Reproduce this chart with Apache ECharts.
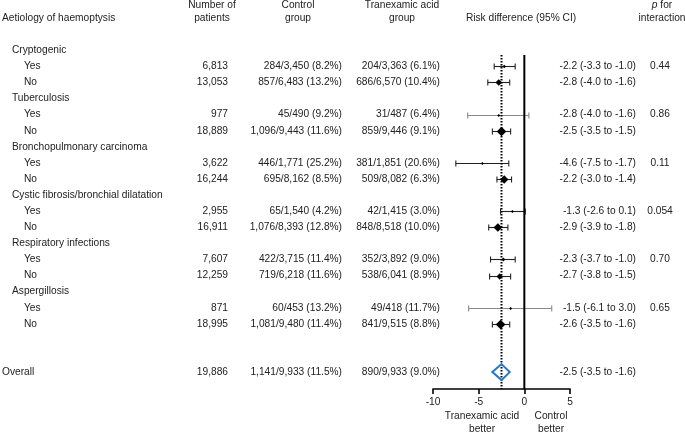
<!DOCTYPE html>
<html><head><meta charset="utf-8">
<script src="https://cdn.jsdelivr.net/npm/echarts@6/dist/echarts.min.js"></script>
<style>html,body{margin:0;padding:0;background:#fff}#c{width:685px;height:432px}</style>
</head><body><div id="c"></div>
<script>
// ---------- data ----------
const groups = ['Cryptogenic','Tuberculosis','Bronchopulmonary carcinoma','Cystic fibrosis/bronchial dilatation','Respiratory infections','Aspergillosis'];
const patientsYes = ['6,813','977','3,622','2,955','7,607','871'];
const patientsNo  = ['13,053','18,889','16,244','16,911','12,259','18,995'];
const controlYes = ['284/3,450 (8.2%)','45/490 (9.2%)','446/1,771 (25.2%)','65/1,540 (4.2%)','422/3,715 (11.4%)','60/453 (13.2%)'];
const controlNo  = ['857/6,483 (13.2%)','1,096/9,443 (11.6%)','695/8,162 (8.5%)','1,076/8,393 (12.8%)','719/6,218 (11.6%)','1,081/9,480 (11.4%)'];
const txaYes = ['204/3,363 (6.1%)','31/487 (6.4%)','381/1,851 (20.6%)','42/1,415 (3.0%)','352/3,892 (9.0%)','49/418 (11.7%)'];
const txaNo  = ['686/6,570 (10.4%)','859/9,446 (9.1%)','509/8,082 (6.3%)','848/8,518 (10.0%)','538/6,041 (8.9%)','841/9,515 (8.8%)'];
const rdYes = ['-2.2 (-3.3 to -1.0)','-2.8 (-4.0 to -1.6)','-4.6 (-7.5 to -1.7)','-1.3 (-2.6 to 0.1)','-2.3 (-3.7 to -1.0)','-1.5 (-6.1 to 3.0)'];
const rdNo  = ['-2.8 (-4.0 to -1.6)','-2.5 (-3.5 to -1.5)','-2.2 (-3.0 to -1.4)','-2.9 (-3.9 to -1.8)','-2.7 (-3.8 to -1.5)','-2.6 (-3.5 to -1.6)'];
const pInteraction = ['0.44','0.86','0.11','0.054','0.70','0.65'];
// plotted estimates
const estYes = [-2.2,-2.8,-4.6,-1.3,-2.3,-1.5];
const loYes  = [-3.3,-6.2,-7.5,-2.6,-3.7,-6.1];
const hiYes  = [-1.0, 0.5,-1.7, 0.1,-1.0, 3.0];
const estNo = [-2.8,-2.5,-2.2,-2.9,-2.7,-2.6];
const loNo  = [-4.0,-3.5,-3.0,-3.9,-3.8,-3.5];
const hiNo  = [-1.6,-1.5,-1.4,-1.8,-1.5,-1.6];
const overallLabel = 'Overall';
const overallPatients = '19,886';
const overallControl = '1,141/9,933 (11.5%)';
const overallTxa = '890/9,933 (9.0%)';
const overallRd = '-2.5 (-3.5 to -1.6)';
const overallEst = -2.5, overallLo = -3.5, overallHi = -1.6;
const xTicks = [-10,-5,0,5];

// ---------- layout ----------
const FONT = '10.2px "Liberation Sans", Arial, sans-serif';
const TXT = '#222';
const OVERALL_ROW = 20;
const texts = [];
function T(x,row,t,align,rich){texts.push({x,row,t,align,rich});}
// headers
T(2,-2,'Aetiology of haemoptysis','left');
T(212,-2.8,'Number of','center'); T(212,-2,'patients','center');
T(298,-2.8,'Control','center'); T(298,-2,'group','center');
T(402,-2.8,'Tranexamic acid','center'); T(402,-2,'group','center');
T(521,-2,'Risk difference (95% CI)','center');
T(662,-2.8,'{i|p} for','center',true); T(662,-2,'interaction','center');
groups.forEach((g,i)=>{
  const r=3*i;
  T(12,r,g,'left');
  T(24,r+1,'Yes','left'); T(24,r+2,'No','left');
  T(228,r+1,patientsYes[i],'right'); T(228,r+2,patientsNo[i],'right');
  T(342,r+1,controlYes[i],'right'); T(342,r+2,controlNo[i],'right');
  T(440,r+1,txaYes[i],'right'); T(440,r+2,txaNo[i],'right');
  T(636,r+1,rdYes[i],'right'); T(636,r+2,rdNo[i],'right');
  T(660,r+1,pInteraction[i],'center');
});
T(2,OVERALL_ROW,overallLabel,'left');
T(228,OVERALL_ROW,overallPatients,'right');
T(342,OVERALL_ROW,overallControl,'right');
T(440,OVERALL_ROW,overallTxa,'right');
T(636,OVERALL_ROW,overallRd,'right');
T(482,22.72,'Tranexamic acid','center'); T(482,23.52,'better','center');
T(551,22.72,'Control','center'); T(551,23.52,'better','center');

const num = s => +s.replace(/,/g,'');
const forest = [];
groups.forEach((g,i)=>{
  forest.push([estYes[i],loYes[i],hiYes[i],3*i+1,num(patientsYes[i])]);
  forest.push([estNo[i],loNo[i],hiNo[i],3*i+2,num(patientsNo[i])]);
});

const YMIN=-3, YMAX=21.05;
const chart = echarts.init(document.getElementById('c'),null,{renderer:'canvas'});
chart.setOption({
  animation:false,
  backgroundColor:'#fff',
  grid:[
    {left:433,right:115,top:2,bottom:43},
    {left:0,right:0,top:2,bottom:43}
  ],
  xAxis:[
    {gridIndex:0,type:'value',min:-10,max:5,interval:5,
     axisLine:{show:true,onZero:false,lineStyle:{color:'#000',width:1.6}},
     axisTick:{show:true,length:5,lineStyle:{color:'#000',width:1.6}},
     axisLabel:{color:TXT,fontSize:10.2,fontFamily:'Liberation Sans',margin:8,
       formatter:v=>xTicks.includes(v)?String(v):''},
     splitLine:{show:false}},
    {gridIndex:1,type:'value',min:0,max:685,show:false}
  ],
  yAxis:[
    {gridIndex:0,type:'value',min:YMIN,max:YMAX,inverse:true,show:false},
    {gridIndex:1,type:'value',min:YMIN,max:YMAX,inverse:true,show:false}
  ],
  series:[
    { // reference lines
      type:'custom',xAxisIndex:0,yAxisIndex:0,clip:false,
      data:[[0,0.3,YMAX,0],[overallEst,0.3,YMAX,1]],
      renderItem:(p,api)=>{
        const a=api.coord([api.value(0),api.value(1)]), b=api.coord([api.value(0),api.value(2)]);
        const dotted=api.value(3)===1;
        return {type:'line',shape:{x1:a[0],y1:a[1],x2:b[0],y2:b[1]},
          style:{stroke:'#000',lineWidth:2,lineDash:dotted?[1.5,1.5]:null},z2:dotted?2:1};
      }
    },
    { // CI rows
      type:'custom',xAxisIndex:0,yAxisIndex:0,clip:false,
      data:forest,
      renderItem:(p,api)=>{
        const est=api.value(0),lo=api.value(1),hi=api.value(2),row=api.value(3),n=api.value(4);
        const c=api.coord([est,row]), l=api.coord([lo,row]), h=api.coord([hi,row]);
        const col = n<1000 ? '#8a8a8a' : '#222';
        const s = Math.max(3, n/1950);
        const y=Math.round(c[1])+0.5;
        return {type:'group',children:[
          {type:'line',shape:{x1:l[0],y1:y,x2:h[0],y2:y},style:{stroke:col,lineWidth:1.1}},
          {type:'line',shape:{x1:l[0],y1:y-3,x2:l[0],y2:y+3},style:{stroke:col,lineWidth:1.1}},
          {type:'line',shape:{x1:h[0],y1:y-3,x2:h[0],y2:y+3},style:{stroke:col,lineWidth:1.1}},
          {type:'polygon',z2:5,shape:{points:[[c[0],y-s/2],[c[0]+s/2,y],[c[0],y+s/2],[c[0]-s/2,y]]},style:{fill:'#000'}}
        ]};
      }
    },
    { // overall diamond
      type:'custom',xAxisIndex:0,yAxisIndex:0,clip:false,
      data:[[overallEst,overallLo,overallHi,OVERALL_ROW]],
      renderItem:(p,api)=>{
        const c=api.coord([api.value(0),api.value(3)]), l=api.coord([api.value(1),api.value(3)]), h=api.coord([api.value(2),api.value(3)]);
        return {type:'polygon',z2:10,shape:{points:[[c[0],c[1]-8],[h[0],c[1]],[c[0],c[1]+8],[l[0],c[1]]]},
          style:{fill:'rgba(0,0,0,0)',stroke:'#1f78d1',lineWidth:2}};
      }
    },
    { // table text
      type:'custom',xAxisIndex:1,yAxisIndex:1,clip:false,
      data:texts.map((t,i)=>[t.x,t.row,i]),
      renderItem:(p,api)=>{
        const t=texts[api.value(2)];
        const pt=api.coord([t.x,t.row]);
        const style={text:t.t,x:0,y:0,textAlign:t.align,textVerticalAlign:'middle',font:FONT,fill:TXT};
        if(t.rich){style.rich={i:{fontStyle:'italic',fontSize:10.2,fontFamily:'Liberation Sans',fill:TXT}};}
        return {type:'text',x:pt[0],y:pt[1],style};
      }
    }
  ]
});
</script></body></html>
